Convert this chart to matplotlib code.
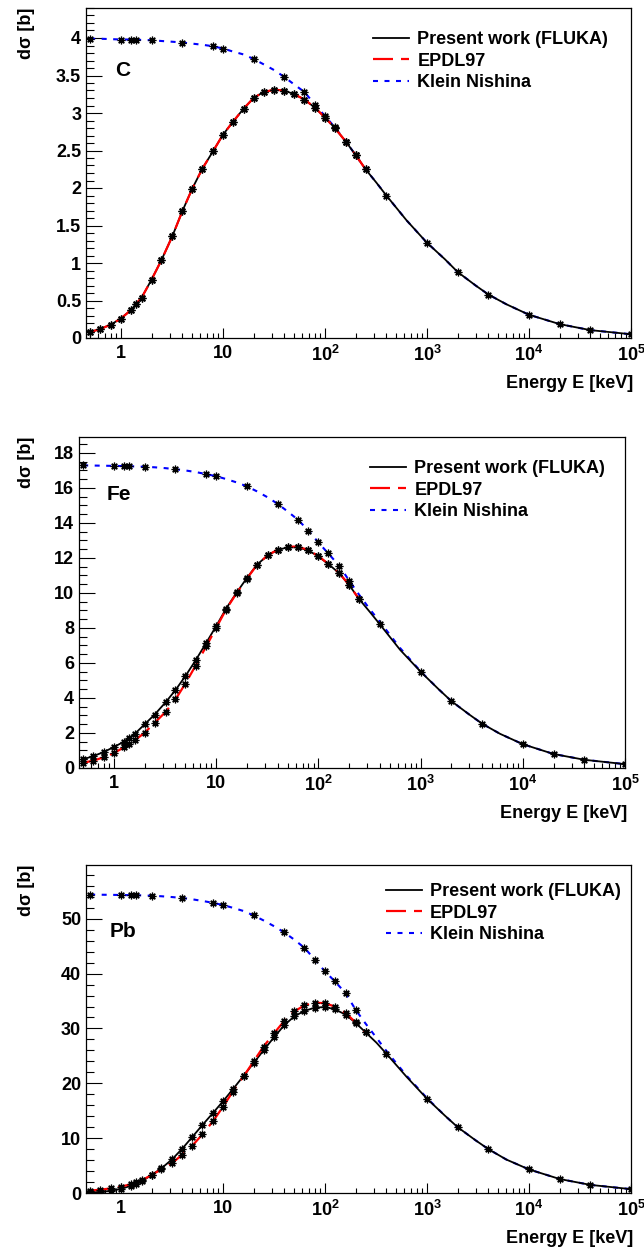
import numpy as np
import matplotlib
matplotlib.use("Agg")
import matplotlib.pyplot as plt
from matplotlib.ticker import FixedLocator, FixedFormatter, MultipleLocator, FuncFormatter, LogLocator, NullFormatter

plt.rcParams['font.family'] = ['Liberation Sans', 'DejaVu Sans']
plt.rcParams['font.weight'] = 'bold'
plt.rcParams['mathtext.fontset'] = 'custom'
plt.rcParams['mathtext.rm'] = 'Liberation Sans:bold'
plt.rcParams['mathtext.bf'] = 'Liberation Sans:bold'
plt.rcParams['mathtext.it'] = 'Liberation Sans:bold'

# ---------------- data ----------------
energy = [0.5, 0.63, 0.8, 1, 1.25, 1.4, 1.6, 2, 2.5, 3.2, 4, 5, 6.3, 8, 10, 12.5, 16, 20,
          25, 32, 40, 50, 63, 80, 100, 125, 160, 200, 250, 320, 400, 630, 1000, 1500,
          2000, 3000, 4000, 6000, 1e4, 2e4, 4e4, 1e5]
marker_energy = [0.5, 0.63, 0.8, 1, 1.25, 1.4, 1.6, 2, 2.5, 3.2, 4, 5, 6.3, 8, 10, 12.5, 16, 20,
                 25, 32, 40, 50, 63, 80, 100, 125, 160, 200, 250, 400, 1000, 2000, 4000,
                 1e4, 2e4, 4e4, 1e5]
kn_marker_energy = [0.5, 1, 1.25, 1.4, 2, 4, 8, 10, 20, 40, 63, 80, 100, 125, 160, 200]
epdl_max_energy = 250

# Carbon
c_fluka = [0.08, 0.12, 0.18, 0.26, 0.37, 0.45, 0.54, 0.78, 1.04, 1.36, 1.69, 1.99, 2.26, 2.49,
           2.71, 2.88, 3.06, 3.20, 3.28, 3.31, 3.30, 3.25, 3.18, 3.07, 2.94, 2.80, 2.62, 2.44,
           2.25, 2.07, 1.90, 1.57, 1.27, 1.05, 0.88, 0.70, 0.58, 0.45, 0.31, 0.185, 0.105, 0.05]
c_epdl = [0.08, 0.12, 0.18, 0.26, 0.37, 0.45, 0.54, 0.78, 1.04, 1.36, 1.69, 1.99, 2.26, 2.49,
          2.71, 2.88, 3.06, 3.20, 3.28, 3.31, 3.30, 3.25, 3.18, 3.07, 2.94, 2.80, 2.62, 2.44, 2.25]
c_kn = [3.99, 3.99, 3.985, 3.98, 3.98, 3.975, 3.975, 3.97, 3.96, 3.95, 3.94, 3.925, 3.91, 3.89,
        3.86, 3.82, 3.78, 3.72, 3.65, 3.57, 3.48, 3.38, 3.28, 3.11, 2.96, 2.81, 2.62, 2.44,
        2.25, 2.07, 1.90, 1.57, 1.27, 1.05, 0.88, 0.70, 0.58, 0.45, 0.31, 0.185, 0.105, 0.05]

# Iron
fe_fluka = [0.50, 0.68, 0.92, 1.20, 1.50, 1.72, 1.95, 2.50, 3.05, 3.75, 4.45, 5.25, 6.15, 7.15,
            8.10, 9.10, 10.05, 10.85, 11.60, 12.15, 12.45, 12.60, 12.60, 12.42, 12.08, 11.65,
            11.12, 10.45, 9.65, 8.90, 8.20, 6.75, 5.50, 4.50, 3.82, 3.05, 2.53, 1.95, 1.36,
            0.80, 0.47, 0.22]
fe_epdl = [0.30, 0.42, 0.62, 0.85, 1.18, 1.38, 1.58, 2.02, 2.58, 3.20, 3.92, 4.82, 5.85, 6.95,
           8.00, 9.05, 10.02, 10.82, 11.58, 12.15, 12.47, 12.64, 12.64, 12.45, 12.10, 11.66,
           11.13, 10.45, 9.65]
fe_kn = [17.28, 17.27, 17.26, 17.25, 17.24, 17.23, 17.22, 17.20, 17.17, 17.12, 17.06, 16.99,
         16.90, 16.78, 16.66, 16.50, 16.30, 16.08, 15.80, 15.45, 15.08, 14.65, 14.18, 13.55,
         12.88, 12.25, 11.55, 10.70, 9.90, 9.05, 8.35, 6.85, 5.52, 4.50, 3.82, 3.05, 2.53,
         1.95, 1.36, 0.80, 0.47, 0.22]

# Lead
pb_fluka = [0.10, 0.20, 0.40, 0.75, 1.30, 1.70, 2.10, 3.30, 4.50, 6.20, 8.10, 10.20, 12.40,
            14.60, 16.70, 18.90, 21.40, 23.70, 26.00, 28.50, 30.60, 32.20, 33.20, 33.80, 33.90,
            33.50, 32.50, 31.00, 29.30, 27.40, 25.40, 21.20, 17.20, 14.10, 12.00, 9.60, 8.00,
            6.10, 4.30, 2.55, 1.48, 0.70]
pb_epdl = [0.45, 0.60, 0.85, 1.15, 1.60, 1.95, 2.30, 3.30, 4.30, 5.50, 7.00, 8.60, 10.70, 13.10,
           15.70, 18.50, 21.30, 24.00, 26.70, 29.20, 31.40, 33.10, 34.20, 34.70, 34.60, 34.00,
           32.80, 31.10, 29.30]
pb_kn = [54.40, 54.38, 54.36, 54.33, 54.30, 54.28, 54.26, 54.20, 54.10, 53.95, 53.78, 53.55,
         53.25, 52.90, 52.50, 52.00, 51.40, 50.60, 49.70, 48.60, 47.50, 46.20, 44.70, 42.50,
         40.40, 38.60, 36.40, 33.40, 30.90, 28.30, 25.90, 21.40, 17.30, 14.10, 12.00, 9.60,
         8.00, 6.10, 4.30, 2.55, 1.48, 0.70]

elements = ["C", "Fe", "Pb"]
series_fluka = [c_fluka, fe_fluka, pb_fluka]
series_epdl = [c_epdl, fe_epdl, pb_epdl]
series_kn = [c_kn, fe_kn, pb_kn]
y_max = [4.4, 18.9, 59.8]
y_major = [0.5, 2, 10]
y_minor = [0.1, 0.5, 2]
x_limits = (0.455, 1e5)
x_tick_values = [1, 10, 100, 1000, 1e4, 1e5]
x_tick_labels = ["1", "10", r"$10^{2}$", r"$10^{3}$", r"$10^{4}$", r"$10^{5}$"]
legend_labels = ["Present work (FLUKA)", "EPDL97", "Klein Nishina"]

# ---------------- layout ----------------
W, H = 644, 1250
fig = plt.figure(figsize=(W / 100, H / 100), dpi=100)
# axes boxes in pixels: left, right, top, bottom
boxes = [(86, 631, 8, 338), (79, 625, 437, 768), (86, 631, 865, 1193)]
label_pos = [(0.053, 0.794), (0.051, 0.810), (0.044, 0.780)]
legend_anchor = [(0.527, 0.93), (0.533, 0.93), (0.550, 0.945)]

E = np.array(energy)
mk = np.isin(E, marker_energy)
kn_mk = np.isin(E, kn_marker_energy)
n_epdl = int(np.sum(E <= epdl_max_energy))

px = 0.72  # points per pixel
for i, (l, r, t, b) in enumerate(boxes):
    ax = fig.add_axes([l / W, 1 - b / H, (r - l) / W, (b - t) / H])
    fl = np.array(series_fluka[i])
    ep = np.array(series_epdl[i])
    kn = np.array(series_kn[i])
    Ee = E[:n_epdl]

    lk, = ax.plot(E, kn, color="#0000ff", lw=1.5, zorder=2)
    lk.set_dashes((5 * px / 1.5, 6.5 * px / 1.5))
    lf, = ax.plot(E, fl, color="black", lw=1.3, zorder=3)
    le, = ax.plot(Ee, ep, color="#ff0000", lw=1.6, zorder=4)
    le.set_dashes((20 * px / 1.6, 8 * px / 1.6))

    mstyle = dict(ls="none", marker=(8, 2, 0), ms=5.5, mew=0.9, color="black", zorder=5)
    ax.plot(E[mk], fl[mk], **mstyle)
    ax.plot(Ee[mk[:n_epdl]], ep[mk[:n_epdl]], **mstyle)
    ax.plot(E[kn_mk], kn[kn_mk], **mstyle)

    ax.set_xscale("log")
    ax.set_xlim(*x_limits)
    ax.set_ylim(0, y_max[i])

    ax.xaxis.set_major_locator(FixedLocator(x_tick_values))
    ax.xaxis.set_major_formatter(FixedFormatter(x_tick_labels))
    ax.xaxis.set_minor_locator(LogLocator(base=10, subs=np.arange(2, 10)))
    ax.xaxis.set_minor_formatter(NullFormatter())
    ax.yaxis.set_major_locator(MultipleLocator(y_major[i]))
    ax.yaxis.set_minor_locator(MultipleLocator(y_minor[i]))
    ax.yaxis.set_major_formatter(FuncFormatter(lambda v, p: "%g" % v))

    ax.tick_params(axis="both", which="both", direction="in", top=False, right=False,
                   labelsize=13, width=0.8)
    ax.tick_params(axis="y", which="major", length=16 * px, pad=3.5)
    ax.tick_params(axis="y", which="minor", length=8 * px)
    ax.tick_params(axis="x", which="major", length=10 * px, pad=5)
    ax.tick_params(axis="x", which="minor", length=5 * px)
    for s in ax.spines.values():
        s.set_linewidth(0.9)

    ax.set_xlabel("Energy E [keV]", fontsize=13, fontweight="bold", loc="right")
    ax.xaxis.set_label_coords(1.004, -0.112)
    ax.set_ylabel("dσ [b]", fontsize=13, fontweight="bold", loc="top")
    ax.yaxis.set_label_coords((35 - l) / (r - l), 1.0)

    ax.text(label_pos[i][0], label_pos[i][1], elements[i], transform=ax.transAxes,
            fontsize=15, fontweight="bold", ha="left", va="baseline")

    ax.legend([lf, le, lk], legend_labels, loc="upper left", bbox_to_anchor=legend_anchor[i],
              frameon=False, fontsize=13, borderpad=0, borderaxespad=0,
              handlelength=2.0, handletextpad=0.45, labelspacing=0.25)

fig.savefig("out.png", dpi=100)
